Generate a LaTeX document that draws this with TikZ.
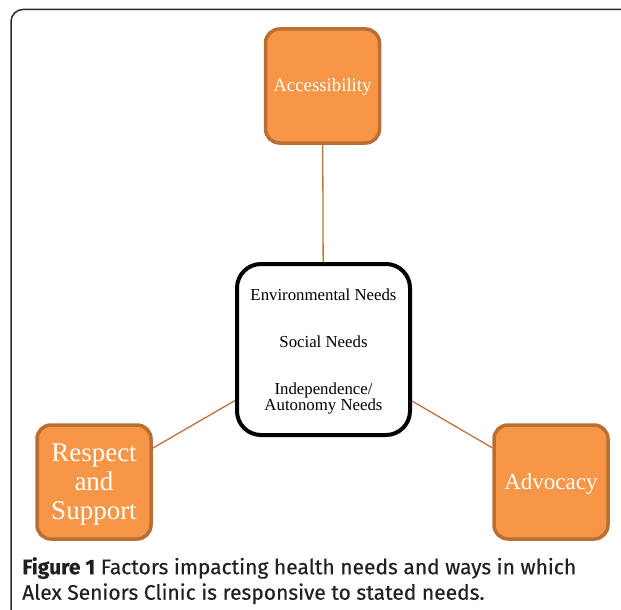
\documentclass[tikz,border=0pt]{standalone}
\usepackage{fontspec}
\setmainfont{Liberation Serif}
\newfontfamily\capfont[FakeBold=0.4]{Fira Sans}
\definecolor{orfill}{HTML}{F79646}
\definecolor{ordraw}{HTML}{B96E33}
\definecolor{linkcol}{HTML}{C0713A}
\definecolor{framecol}{HTML}{2B2B2B}
\definecolor{captext}{HTML}{231F20}
\tikzset{
  orbox/.style={draw=ordraw, line width=3.5pt, fill=orfill, rounded corners=14pt,
    minimum width=114pt, minimum height=114pt, text=white, align=center, inner sep=0pt},
  needsbox/.style={draw=black, line width=4pt, fill=white, rounded corners=24pt,
    minimum width=173pt, minimum height=171pt, inner sep=0pt},
  needtext/.style={font=\fontsize{16.8}{17}\selectfont, align=center},
  boxtext/.style={text=white, align=center},
  link/.style={draw=linkcol, line width=1.3pt}
}
\begin{document}
\begin{tikzpicture}[x=1pt,y=-1pt]
\useasboundingbox (0,0) rectangle (621,610);
\begin{scope}
\clip (0,0) rectangle (621,610);
\draw[framecol, line width=1.5pt, rounded corners=12pt] (11,9.5) rectangle (700,700);
\end{scope}
\node[needsbox] (needs) at (323.5,349.5) {};
\node[needtext] (env) at (323.5,295) {Environmental Needs};
\node[needtext] (soc) at (323.5,342) {Social Needs};
\node[needtext] (ind) at (323.5,398) {Independence/\\[-1pt]Autonomy Needs};
\node[orbox] (acc) at (322.5,86) {};
\node[boxtext, font=\fontsize{18.8}{20}\selectfont] (acctext) at (322.5,87.5) {Accessibility};
\node[orbox] (resp) at (94,482) {};
\node[boxtext, font=\fontsize{27}{28}\selectfont] (resptext) at (94,484.5) {Respect\\[1pt]and\\[1pt]Support};
\node[orbox] (adv) at (551,482) {};
\node[boxtext, font=\fontsize{23}{24}\selectfont] (advtext) at (551,484) {Advocacy};
\draw[link] (acc) -- (needs);
\draw[link] (needs) -- (resp);
\draw[link] (needs) -- (adv);
\node[anchor=north west, align=left, text=captext, font=\capfont\fontsize{21}{25.5}\selectfont, inner sep=0pt] (cap) at (22,557)
  {\textbf{Figure 1} Factors impacting health needs and ways in which\\Alex Seniors Clinic is responsive to stated needs.};
\end{tikzpicture}
\end{document}
